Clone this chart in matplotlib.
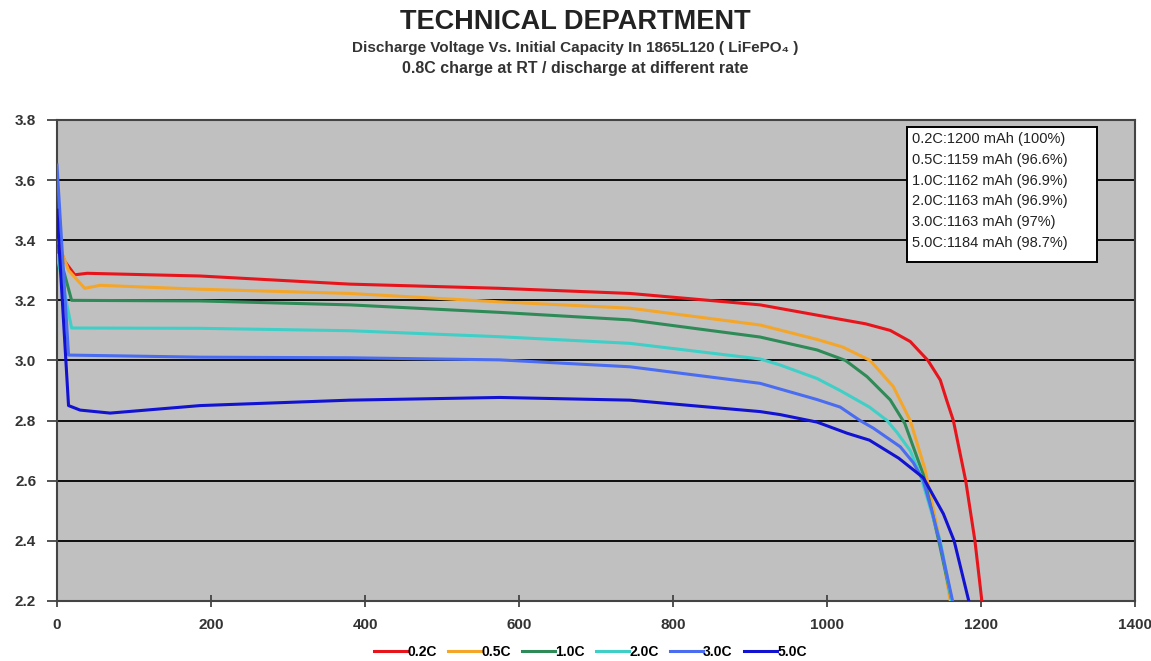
import matplotlib
matplotlib.use("Agg")
from matplotlib import pyplot as plt
from matplotlib.patches import Rectangle

plt.rcParams['font.family'] = ['Liberation Sans', 'DejaVu Sans']

# capacity (mAh) and voltage (V)
cap_02 = [0, 10, 23, 39, 186, 380, 575, 744, 913, 1017, 1050, 1082, 1108, 1131, 1147, 1155, 1164, 1172, 1180, 1192, 1201]
v_02 = [3.40, 3.33, 3.285, 3.29, 3.281, 3.254, 3.24, 3.223, 3.185, 3.137, 3.122, 3.10, 3.063, 3.0, 2.935, 2.87, 2.80, 2.70, 2.60, 2.40, 2.2]
cap_05 = [0, 15, 36, 56, 186, 380, 575, 744, 913, 987, 1020, 1056, 1086, 1108, 1127, 1140, 1150, 1160]
v_05 = [3.40, 3.30, 3.24, 3.25, 3.237, 3.223, 3.195, 3.174, 3.118, 3.07, 3.045, 3.0, 2.913, 2.80, 2.64, 2.48, 2.35, 2.2]
cap_10 = [0, 19, 186, 380, 575, 744, 913, 987, 1024, 1052, 1082, 1101, 1125, 1145, 1162]
v_10 = [3.38, 3.20, 3.198, 3.185, 3.16, 3.135, 3.078, 3.035, 3.0, 2.946, 2.869, 2.79, 2.62, 2.40, 2.2]
cap_20 = [0, 19, 186, 380, 575, 744, 913, 939, 987, 1017, 1055, 1078, 1091, 1108, 1121, 1135, 1147, 1162]
v_20 = [3.35, 3.108, 3.107, 3.099, 3.079, 3.057, 3.005, 2.985, 2.94, 2.90, 2.845, 2.80, 2.76, 2.70, 2.62, 2.50, 2.40, 2.2]
cap_30 = [0, 15, 186, 380, 575, 744, 913, 939, 987, 1017, 1043, 1060, 1095, 1112, 1125, 1136, 1146, 1163]
v_30 = [3.65, 3.018, 3.011, 3.009, 3.002, 2.979, 2.924, 2.905, 2.87, 2.845, 2.80, 2.775, 2.713, 2.66, 2.60, 2.50, 2.40, 2.2]
cap_50 = [0, 15, 30, 69, 186, 380, 575, 744, 913, 939, 987, 1026, 1055, 1093, 1125, 1151, 1165, 1184]
v_50 = [3.50, 2.85, 2.835, 2.825, 2.85, 2.868, 2.877, 2.868, 2.83, 2.82, 2.795, 2.758, 2.735, 2.675, 2.61, 2.49, 2.40, 2.2]

rates = ["0.2C", "0.5C", "1.0C", "2.0C", "3.0C", "5.0C"]
caps = [cap_02, cap_05, cap_10, cap_20, cap_30, cap_50]
volts = [v_02, v_05, v_10, v_20, v_30, v_50]
colors = ["#e8141c", "#f4a62a", "#2e8b57", "#3fcfc6", "#4a6cf0", "#1212d2"]

info_lines = ["0.2C:1200 mAh (100%)", "0.5C:1159 mAh (96.6%)", "1.0C:1162 mAh (96.9%)",
              "2.0C:1163 mAh (96.9%)", "3.0C:1163 mAh (97%)", "5.0C:1184 mAh (98.7%)"]

fig = plt.figure(figsize=(11.51, 6.61), dpi=100)
ax = fig.add_axes([0.0495, 0.0908, 0.9367, 0.7277])
ax.set_facecolor("#c0c0c0")

for c, v, col, lab in zip(caps, volts, colors, rates):
    ax.plot(c, v, color=col, lw=2.2, label=lab, zorder=3)

ax.set_xlim(0, 1400)
ax.set_ylim(2.2, 3.8)
ax.set_xticks(range(0, 1401, 200))
ax.set_yticks([2.2 + 0.2 * i for i in range(9)])
ax.set_yticklabels(["%.1f" % (2.2 + 0.2 * i) for i in range(9)])
ax.yaxis.grid(True, color="black", lw=1.3)
ax.set_axisbelow(True)
for s in ax.spines.values():
    s.set_color("#444444")
    s.set_linewidth(1.5)
ax.tick_params(axis="x", direction="inout", length=8, width=1.3, colors="#444444", labelcolor="#333333", pad=8)
ax.tick_params(axis="y", direction="out", length=7, width=1.3, colors="#444444", labelcolor="#333333", pad=8)
for lbl in ax.get_xticklabels() + ax.get_yticklabels():
    lbl.set_fontsize(11)
    lbl.set_fontweight("bold")

# info box in the upper right
ax.add_patch(Rectangle((0.7885, 0.7048), 0.1762, 0.2806, transform=ax.transAxes,
                       fc="white", ec="black", lw=1.4, zorder=5))
ax.text(0.7935, 0.975, "\n".join(info_lines), transform=ax.transAxes, ha="left", va="top",
        fontsize=10.5, linespacing=1.62, color="#222222", zorder=6)

fig.text(0.5, 0.966, "TECHNICAL DEPARTMENT", ha="center", va="center", fontsize=19.5,
         fontweight="bold", color="#222222")
fig.text(0.5, 0.928, "Discharge Voltage Vs. Initial Capacity In 1865L120 ( LiFePO\u2084 )", ha="center",
         va="center", fontsize=11, fontweight="bold", color="#333333")
fig.text(0.5, 0.896, "0.8C charge at RT / discharge at different rate", ha="center", va="center",
         fontsize=11.5, fontweight="bold", color="#333333")

fig.legend(loc="center", bbox_to_anchor=(0.513, 0.014), ncol=6, frameon=False, handlelength=2.4,
           handletextpad=0.0, columnspacing=0.8, prop={"size": 10, "weight": "bold"})

fig.savefig("out.png", dpi=100)
